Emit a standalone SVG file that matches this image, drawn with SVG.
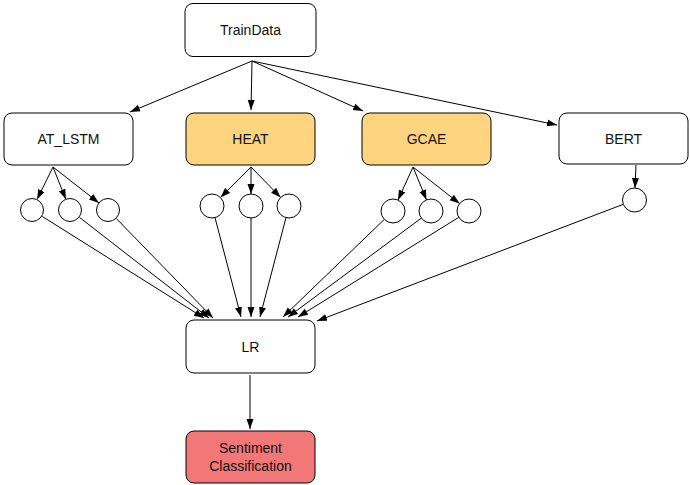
<svg xmlns="http://www.w3.org/2000/svg" width="690" height="485" viewBox="0 0 690 485">
<defs>
<marker id="ah" markerUnits="userSpaceOnUse" markerWidth="11" markerHeight="8" refX="10" refY="4" orient="auto">
<path d="M0,0.5 L10,4 L0,7.5 Z" fill="#000"/>
</marker>
<style>
.box{stroke:#000;stroke-width:1;fill:#fff}
.heat{fill:#FFD47F}
.sent{fill:#F27777}
.c{stroke:#000;stroke-width:1;fill:#fff}
.t{font-family:"Liberation Sans",Arial,sans-serif;font-size:14px;fill:#111;text-anchor:middle}
.e{stroke:#000;stroke-width:1;fill:none;marker-end:url(#ah)}
</style>
</defs>
<rect width="690" height="485" fill="#fff"/>
<g id="connectors">
<line class="e" x1="252" y1="61" x2="130" y2="112"/>
<line class="e" x1="252" y1="61" x2="251" y2="110"/>
<line class="e" x1="252" y1="61" x2="363" y2="111"/>
<line class="e" x1="252" y1="61" x2="557" y2="125"/>
<line class="e" x1="53" y1="167" x2="37" y2="199.5"/>
<line class="e" x1="53" y1="167" x2="65.8" y2="199.3"/>
<line class="e" x1="53" y1="167" x2="98.9" y2="202.9"/>
<line class="e" x1="251" y1="167" x2="220.5" y2="197.5"/>
<line class="e" x1="251" y1="167" x2="251" y2="194"/>
<line class="e" x1="251" y1="167" x2="280.6" y2="197.4"/>
<line class="e" x1="413" y1="167" x2="398" y2="200"/>
<line class="e" x1="413" y1="167" x2="426.5" y2="199.9"/>
<line class="e" x1="413" y1="167" x2="459.6" y2="203.6"/>
<line class="e" x1="636" y1="165" x2="635" y2="188"/>
<line class="e" x1="42.2" y1="216.4" x2="204" y2="318"/>
<line class="e" x1="79.5" y1="217.4" x2="209" y2="318"/>
<line class="e" x1="116.4" y1="218.6" x2="213" y2="318"/>
<line class="e" x1="215" y1="217.6" x2="241" y2="317"/>
<line class="e" x1="251" y1="218" x2="251" y2="317"/>
<line class="e" x1="286" y1="217.6" x2="260" y2="317"/>
<line class="e" x1="384.4" y1="219.3" x2="283" y2="317"/>
<line class="e" x1="421.4" y1="218.1" x2="288" y2="317"/>
<line class="e" x1="458.8" y1="217.3" x2="298" y2="317"/>
<line class="e" x1="623.3" y1="204.3" x2="317" y2="321"/>
<line class="e" x1="250" y1="375" x2="250" y2="429"/>
</g>
<g id="TrainData"><rect class="box" x="185" y="3.5" width="131" height="53" rx="8"/><text class="t" x="250.5" y="35">TrainData</text></g>
<g id="AT_LSTM"><rect class="box" x="4" y="113" width="129" height="52" rx="8"/><text class="t" x="68.5" y="144">AT_LSTM</text></g>
<g id="HEAT"><rect class="box heat" x="186" y="113" width="129" height="52" rx="8"/><text class="t" x="250.5" y="144">HEAT</text></g>
<g id="GCAE"><rect class="box heat" x="362" y="113" width="129" height="52" rx="8"/><text class="t" x="426.5" y="144">GCAE</text></g>
<g id="BERT"><rect class="box" x="559" y="113" width="129" height="51" rx="8"/><text class="t" x="623.5" y="144">BERT</text></g>
<g id="at_c1"><circle class="c" cx="32" cy="210" r="11.5"/></g>
<g id="at_c2"><circle class="c" cx="70" cy="210" r="11.5"/></g>
<g id="at_c3"><circle class="c" cx="108" cy="210" r="11.5"/></g>
<g id="heat_c1"><circle class="c" cx="212" cy="206" r="12"/></g>
<g id="heat_c2"><circle class="c" cx="251" cy="206" r="12"/></g>
<g id="heat_c3"><circle class="c" cx="289" cy="206" r="12"/></g>
<g id="gcae_c1"><circle class="c" cx="393" cy="211" r="12"/></g>
<g id="gcae_c2"><circle class="c" cx="431" cy="211" r="12"/></g>
<g id="gcae_c3"><circle class="c" cx="469" cy="211" r="12"/></g>
<g id="bert_c1"><circle class="c" cx="634.5" cy="200" r="12"/></g>
<g id="LR"><rect class="box" x="186" y="320" width="129" height="53" rx="8"/><text class="t" x="250.5" y="352">LR</text></g>
<g id="Sentiment"><rect class="box sent" x="186" y="431" width="129" height="52" rx="8"/><text class="t" x="250.5" y="453">Sentiment</text><text class="t" x="250.5" y="471">Classification</text></g>
</svg>
